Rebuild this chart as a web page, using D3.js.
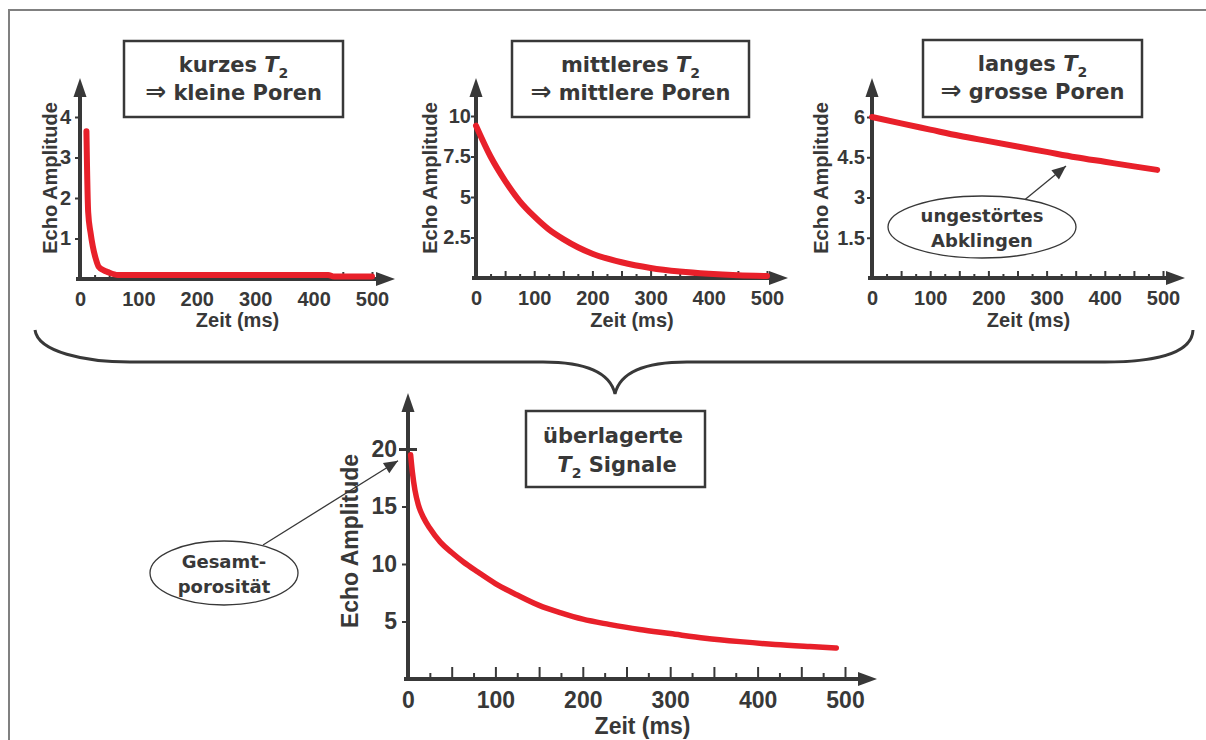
<!DOCTYPE html>
<html>
<head>
<meta charset="utf-8">
<script src="https://cdn.jsdelivr.net/npm/d3@7/dist/d3.min.js"></script>
<style>
  body { margin: 0; background: #fff; }
  svg text { fill: #383838; }
  text.ax, .ax text { font-family: "Liberation Sans", Arial, sans-serif; font-weight: bold; fill: #383838; }
  .ttl { font-family: "DejaVu Sans", Verdana, sans-serif; font-weight: bold; }
</style>
</head>
<body>
<script>
// --- data ---
var shortTime = [11, 12, 14, 18, 22, 27, 32, 40, 48, 65, 100, 200, 300, 425, 435, 500];
var shortAmp  = [3.65, 2.8, 1.65, 1.15, 0.8, 0.5, 0.3, 0.22, 0.17, 0.1, 0.1, 0.1, 0.1, 0.1, 0.06, 0.06];

var medTime = [0, 25, 50, 75, 100, 125, 150, 175, 200, 250, 300, 350, 400, 450, 500];
var medAmp  = [9.4, 7.5, 6.0, 4.75, 3.8, 3.0, 2.4, 1.9, 1.5, 0.97, 0.62, 0.4, 0.26, 0.17, 0.12];

var longTime = [0, 50, 100, 150, 200, 250, 300, 350, 400, 450, 490];
var longAmp  = [6.0, 5.76, 5.53, 5.3, 5.1, 4.9, 4.7, 4.5, 4.33, 4.16, 4.03];

var sumTime = [3, 5, 8, 12, 18, 25, 37, 50, 63, 80, 100, 125, 150, 175, 200, 230, 265, 300, 340, 380, 420, 460, 490];
var sumAmp  = [19.5, 18.0, 16.4, 15.1, 14.0, 13.1, 11.9, 11.0, 10.2, 9.3, 8.3, 7.3, 6.4, 5.75, 5.2, 4.75, 4.3, 3.95, 3.55, 3.25, 3.0, 2.82, 2.7];

var xTickLabels = [0, 100, 200, 300, 400, 500];
var xMinorTicks = d3.range(25, 501, 25);
var yTicksShort = [1, 2, 3, 4];
var yTicksMed   = [2.5, 5, 7.5, 10];
var yTicksLong  = [1.5, 3, 4.5, 6];
var yTicksSum   = [5, 10, 15, 20];

var titleShort = ["kurzes ", "kleine Poren"];
var titleMed   = ["mittleres ", "mittlere Poren"];
var titleLong  = ["langes ", "grosse Poren"];
var xLabel = "Zeit (ms)", yLabel = "Echo Amplitude";

var INK = "#383838", RED = "#e8202a";

var svg = d3.select("body").append("svg")
  .attr("width", 1206).attr("height", 740);

// page frame (top + left only)
svg.append("path")
  .attr("d", "M9,740 L9,10 L1206,10")
  .attr("fill", "none").attr("stroke", "#808080").attr("stroke-width", 2);

/*
  one small chart with arrow axes
*/
function drawPanel(p) {
  var x = d3.scaleLinear().domain([0, 500]).range([p.x0, p.x1]);
  var y = d3.scaleLinear().domain([0, p.yMax]).range([p.base, p.yTop]);
  var g = svg.append("g");

  // minor / major ticks along the time axis
  g.append("g").attr("class", "ax")
    .attr("transform", "translate(0," + p.base + ")")
    .call(d3.axisBottom(x).tickValues(xMinorTicks).tickSize(-p.tickLong).tickFormat(""))
    .call(function(s) { s.select(".domain").remove(); })
    .selectAll("line")
    .attr("stroke", INK).attr("stroke-width", 2)
    .attr("y2", function(d) { return d % 50 === 0 ? -p.tickLong : -p.tickShort; });

  // time labels
  g.append("g").attr("class", "ax")
    .attr("transform", "translate(0," + p.base + ")")
    .call(d3.axisBottom(x).tickValues(xTickLabels).tickSize(0).tickPadding(p.labelPad))
    .call(function(s) { s.select(".domain").remove(); })
    .selectAll("text").style("font-size", p.font + "px");

  // amplitude ticks + labels
  var ya = g.append("g").attr("class", "ax")
    .attr("transform", "translate(" + p.x0 + ",0)")
    .call(d3.axisLeft(y).tickValues(p.yTicks).tickSize(p.yTick).tickPadding(p.yPad)
      .tickFormat(function(d) { return String(d); }))
    .call(function(s) { s.select(".domain").remove(); });
  ya.selectAll("line").attr("stroke", INK).attr("stroke-width", 2);
  ya.selectAll("text").style("font-size", p.font + "px");
  if (p.crossTop) {
    ya.selectAll(".tick").filter(function(d) { return d === p.yMax; })
      .select("line").attr("x1", 9).attr("x2", -9).attr("stroke-width", 3);
  }

  // axis shafts
  g.append("line")
    .attr("x1", p.x0).attr("x2", p.x0)
    .attr("y1", p.base + 2).attr("y2", p.arrowTop + 16)
    .attr("stroke", INK).attr("stroke-width", 4);
  g.append("line")
    .attr("x1", p.x0 - 4).attr("x2", p.arrowRight - 16)
    .attr("y1", p.base).attr("y2", p.base)
    .attr("stroke", INK).attr("stroke-width", 4);
  // arrow heads
  g.append("path")
    .attr("d", "M" + p.x0 + "," + p.arrowTop + " L" + (p.x0 + 6.5) + "," + (p.arrowTop + 19) +
               " L" + (p.x0 - 6.5) + "," + (p.arrowTop + 19) + "Z")
    .attr("fill", INK);
  g.append("path")
    .attr("d", "M" + p.arrowRight + "," + p.base + " L" + (p.arrowRight - 19) + "," + (p.base - 7) +
               " L" + (p.arrowRight - 19) + "," + (p.base + 7) + "Z")
    .attr("fill", INK);

  // the decay curve
  var line = d3.line()
    .x(function(d) { return x(d[0]); })
    .y(function(d) { return y(d[1]); })
    .curve(d3.curveMonotoneX);
  g.append("path")
    .datum(d3.zip(p.time, p.amp))
    .attr("d", line)
    .attr("fill", "none").attr("stroke", RED)
    .attr("stroke-width", p.lw).attr("stroke-linecap", "round").attr("stroke-linejoin", "round");

  // axis titles
  g.append("text").attr("class", "ax")
    .attr("x", (p.x0 + p.arrowRight) / 2).attr("y", p.xLabelY)
    .attr("text-anchor", "middle").style("font-size", p.labelFont + "px")
    .text(xLabel);
  g.append("text").attr("class", "ax")
    .attr("transform", "translate(" + p.yLabelX + "," + p.yLabelY + ") rotate(-90)")
    .attr("text-anchor", "middle").style("font-size", p.labelFont + "px")
    .text(yLabel);

  return { x: x, y: y };
}

var top3 = { lw: 6, font: 20, labelFont: 20, tickLong: 7, tickShort: 4, labelPad: 13, yTick: 5, yPad: 2,
             base: 279, arrowTop: 78, xLabelY: 327, yLabelY: 178 };

drawPanel(Object.assign({}, top3, {
  time: shortTime, amp: shortAmp, yTicks: yTicksShort, yMax: 4,
  x0: 80, x1: 372, yTop: 117, arrowRight: 395, yLabelX: 57, yPad: 4 }));
drawPanel(Object.assign({}, top3, {
  time: medTime, amp: medAmp, yTicks: yTicksMed, yMax: 10,
  x0: 476, x1: 767, base: 278, yTop: 116, arrowRight: 788, yLabelX: 437, yPad: 0 }));
drawPanel(Object.assign({}, top3, {
  time: longTime, amp: longAmp, yTicks: yTicksLong, yMax: 6,
  x0: 872, x1: 1163, base: 278, yTop: 117, arrowRight: 1185, yLabelX: 828, yPad: 2 }));
var bottom = drawPanel({
  time: sumTime, amp: sumAmp, yTicks: yTicksSum, yMax: 20, crossTop: true,
  lw: 5.5, font: 23, labelFont: 23, tickLong: 12, tickShort: 6, labelPad: 13, yTick: 6, yPad: 5,
  x0: 408, x1: 845, base: 679, yTop: 449, arrowTop: 393, arrowRight: 877,
  xLabelY: 734, yLabelX: 358, yLabelY: 541 });

/*
  boxed titles
*/
function titleBox(bx, by, bw, bh, lines) {
  svg.append("rect")
    .attr("x", bx).attr("y", by).attr("width", bw).attr("height", bh)
    .attr("fill", "#fff").attr("stroke", INK).attr("stroke-width", 2.5);
  var cx = bx + bw / 2;
  var t1 = svg.append("text").attr("class", "ttl")
    .attr("x", cx).attr("y", by + 31).attr("text-anchor", "middle").style("font-size", "21px");
  t1.append("tspan").text(lines[0]);
  t1.append("tspan").style("font-style", "italic").text("T");
  t1.append("tspan").attr("dy", 6).style("font-size", "14px").text("2");
  var t2 = svg.append("text").attr("class", "ttl")
    .attr("x", cx).attr("y", by + 59).attr("text-anchor", "middle").style("font-size", "21px");
  t2.append("tspan").style("font-size", "25px").text("\u21D2");
  t2.append("tspan").text(" " + lines[1]);
}
titleBox(124, 41, 219, 76, titleShort);
titleBox(512, 41, 237, 76, titleMed);
titleBox(923, 40, 219, 77, titleLong);

// bottom box
svg.append("rect")
  .attr("x", 526).attr("y", 411).attr("width", 179).attr("height", 76)
  .attr("fill", "#fff").attr("stroke", INK).attr("stroke-width", 2.5);
svg.append("text").attr("class", "ttl")
  .attr("x", 613).attr("y", 443).attr("text-anchor", "middle").style("font-size", "21px")
  .text("überlagerte");
var bt = svg.append("text").attr("class", "ttl")
  .attr("x", 617).attr("y", 472).attr("text-anchor", "middle").style("font-size", "21px");
bt.append("tspan").style("font-style", "italic").text("T");
bt.append("tspan").attr("dy", 6).style("font-size", "14px").text("2");
bt.append("tspan").attr("dy", -6).text(" Signale");

/*
  callouts
*/
function callout(cx, cy, rx, ry, lines, from, to) {
  svg.append("line")
    .attr("x1", from[0]).attr("y1", from[1]).attr("x2", to[0]).attr("y2", to[1])
    .attr("stroke", INK).attr("stroke-width", 1.3);
  var a = Math.atan2(to[1] - from[1], to[0] - from[0]), L = 14, W = 6;
  var bxp = to[0] - L * Math.cos(a), byp = to[1] - L * Math.sin(a);
  svg.append("path")
    .attr("d", "M" + to[0] + "," + to[1] +
      " L" + (bxp + W * Math.sin(a)) + "," + (byp - W * Math.cos(a)) +
      " L" + (bxp - W * Math.sin(a)) + "," + (byp + W * Math.cos(a)) + "Z")
    .attr("fill", INK);
  svg.append("ellipse")
    .attr("cx", cx).attr("cy", cy).attr("rx", rx).attr("ry", ry)
    .attr("fill", "#fff").attr("stroke", INK).attr("stroke-width", 1.3);
  lines.forEach(function(s, i) {
    svg.append("text").attr("class", "ttl")
      .attr("x", cx).attr("y", cy - 5 + i * 25).attr("text-anchor", "middle").style("font-size", "18px")
      .text(s);
  });
}
callout(982, 227, 94, 31, ["ungestörtes", "Abklingen"], [1022, 202], [1066, 166]);
callout(224, 573, 74, 32, ["Gesamt-", "porosität"], [263, 545], [bottom.x(0) - 10, bottom.y(19.5) + 6]);

/*
  curly brace grouping the three panels
*/
svg.append("path")
  .attr("d", "M35,330 C38,352 85,362 130,362 L543,362 C585,362 610,372 615,394" +
             " C620,372 645,362 687,362 L1105,362 C1150,362 1192,355 1193,330")
  .attr("fill", "none").attr("stroke", INK).attr("stroke-width", 3);
</script>
</body>
</html>
